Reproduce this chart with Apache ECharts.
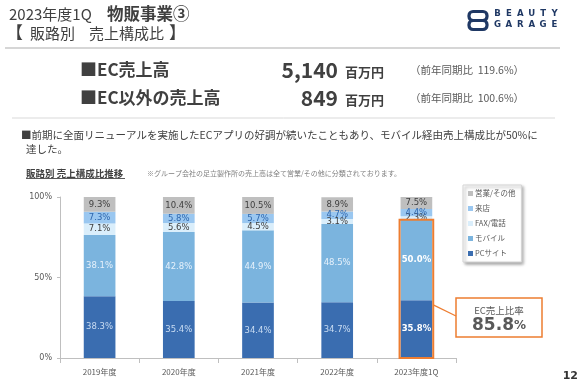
<!DOCTYPE html>
<html>
<head>
<meta charset="utf-8">
<script src="https://cdn.jsdelivr.net/npm/echarts@6/dist/echarts.min.js"></script>
<style>
html,body{margin:0;padding:0;background:#fff;}
#chart{width:580px;height:390px;}
</style>
</head>
<body>
<div id="chart"></div>
<script>
// ---- data ----
const categories = ['2019年度', '2020年度', '2021年度', '2022年度', '2023年度1Q'];
const pcSite   = [38.3, 35.4, 34.4, 34.7, 35.8];
const mobile   = [38.1, 42.8, 44.9, 48.5, 50.0];
const faxPhone = [7.1, 5.6, 4.5, 3.1, 2.3];
const visit    = [7.3, 5.8, 5.7, 4.7, 4.4];
const other    = [9.3, 10.4, 10.5, 8.9, 7.5];
const seriesNames = ['PCサイト', 'モバイル', 'FAX/電話', '来店', '営業/その他'];
const legendOrder = ['営業/その他', '来店', 'FAX/電話', 'モバイル', 'PCサイト'];
const yTicks = [0, 50, 100];
const ecSales = '5,140';
const ecSalesYoY = '119.6%';
const nonEcSales = '849';
const nonEcSalesYoY = '100.6%';
const highlightIndex = 4;

// ---- styling ----
const JP = '"Noto Sans CJK JP", "Noto Sans", sans-serif';
const NUM = '"DejaVu Sans", Verdana, sans-serif';
const colors = ['#3A6DB0', '#7BB4DE', '#DAEEFB', '#9AC7F0', '#BFBFBF'];
const labelColors = ['#c9dcf2', '#e6f1fb', '#404040', '#2f67ad', '#404040'];
const allValues = [pcSite, mobile, faxPhone, visit, other];

const barSeries = allValues.map((vals, s) => ({
  name: seriesNames[s],
  type: 'bar',
  stack: 'total',
  barWidth: '40%',
  itemStyle: { color: colors[s] },
  label: {
    show: true,
    position: 'inside',
    fontFamily: NUM,
    fontSize: 8.5,
    color: labelColors[s],
    formatter: p => Number(p.value).toFixed(1) + '%'
  },
  data: vals.map((v, i) => {
    if (i === highlightIndex && s < 2) {
      return { value: v, label: { color: '#ffffff', fontWeight: 'bold' } };
    }
    return v;
  })
}));

const ecRatio = +(pcSite[highlightIndex] + mobile[highlightIndex]).toFixed(1);

const boxSeries = {
  type: 'custom',
  name: 'ecbox',
  z: 10,
  silent: true,
  coordinateSystem: 'cartesian2d',
  encode: { x: 0, y: 1 },
  data: [[highlightIndex, ecRatio]],
  renderItem: function (params, api) {
    const top = api.coord([api.value(0), api.value(1)]);
    const bottom = api.coord([api.value(0), 0]);
    const bw = api.size([1, 0])[0] * 0.4 + 2;
    const connY = api.coord([api.value(0), 33])[1];
    return {
      type: 'group',
      children: [
        {
          type: 'rect',
          shape: { x: top[0] - bw / 2, y: top[1], width: bw, height: bottom[1] - top[1] },
          style: { fill: 'none', stroke: '#ED7D31', lineWidth: 2 }
        },
        {
          type: 'line',
          shape: { x1: top[0] + bw / 2, y1: connY, x2: 456, y2: 316 },
          style: { stroke: '#ED7D31', lineWidth: 1.2 }
        }
      ]
    };
  }
};

function txt(text, x, y, font, fill, align) {
  return {
    type: 'text',
    silent: true,
    style: { text: text, x: x, y: y, font: font, fill: fill || '#404040', align: align || 'left', verticalAlign: 'middle' }
  };
}

const graphics = [];
// header
graphics.push(txt('2023年度1Q', 9, 14, '15px ' + JP, '#404040'));
graphics.push(txt('物販事業③', 107, 14, 'bold 16.5px ' + JP, '#404040'));
graphics.push(txt('【', 6, 33, '17px ' + JP, '#404040'));
graphics.push(txt('販路別', 30, 33, '15px ' + JP, '#404040'));
graphics.push(txt('売上構成比', 89, 33, '15px ' + JP, '#404040'));
graphics.push(txt('】', 169, 33, '17px ' + JP, '#404040'));
graphics.push({ type: 'line', silent: true, shape: { x1: 5, y1: 48, x2: 560, y2: 48 }, style: { stroke: '#c8c8c8', lineWidth: 1.5 } });
// logo
graphics.push({ type: 'rect', silent: true, shape: { x: 469, y: 11.5, width: 18, height: 9, r: 4 }, style: { fill: 'none', stroke: '#1f3864', lineWidth: 3.2 } });
graphics.push({ type: 'rect', silent: true, shape: { x: 469, y: 20.5, width: 18, height: 9, r: 4 }, style: { fill: 'none', stroke: '#1f3864', lineWidth: 3.2 } });
'BEAUTY'.split('').forEach((c, i) => graphics.push(txt(c, 497.5 + i * 11.4, 13.5, 'bold 9.5px "DejaVu Sans Condensed", sans-serif', '#1f3864', 'center')));
'GARAGE'.split('').forEach((c, i) => graphics.push(txt(c, 497.5 + i * 11.4, 25, 'bold 9.5px "DejaVu Sans Condensed", sans-serif', '#1f3864', 'center')));
// key figures
graphics.push(txt('■EC売上高', 80, 70, 'bold 17px ' + JP, '#404040'));
graphics.push(txt(ecSales, 338, 70, 'bold 21px ' + JP, '#404040', 'right'));
graphics.push(txt('百万円', 345, 72, 'bold 13px ' + JP, '#404040'));
graphics.push(txt('（前年同期比  ' + ecSalesYoY + '）', 410, 70, '10.5px ' + JP, '#595959'));
graphics.push(txt('■EC以外の売上高', 80, 98, 'bold 17px ' + JP, '#404040'));
graphics.push(txt(nonEcSales, 338, 98, 'bold 21px ' + JP, '#404040', 'right'));
graphics.push(txt('百万円', 345, 100, 'bold 13px ' + JP, '#404040'));
graphics.push(txt('（前年同期比  ' + nonEcSalesYoY + '）', 410, 98, '10.5px ' + JP, '#595959'));
graphics.push({ type: 'line', silent: true, shape: { x1: 12, y1: 118, x2: 555, y2: 118 }, style: { stroke: '#d9d9d9', lineWidth: 1 } });
// paragraph
graphics.push(txt('■前期に全面リニューアルを実施したECアプリの好調が続いたこともあり、モバイル経由売上構成比が50%に', 21, 135, '10.5px ' + JP, '#404040'));
graphics.push(txt('達した。', 26, 149, '10.5px ' + JP, '#404040'));
// chart heading
graphics.push(txt('販路別 売上構成比推移', 26, 173, 'bold 9.5px ' + JP, '#404040'));
graphics.push({ type: 'line', silent: true, shape: { x1: 26, y1: 178.5, x2: 125, y2: 178.5 }, style: { stroke: '#595959', lineWidth: 1 } });
graphics.push(txt('※グループ会社の足立製作所の売上高は全て営業/その他に分類されております。', 147, 173, '7px ' + JP, '#7f7f7f'));
// callout
graphics.push({ type: 'rect', silent: true, shape: { x: 456, y: 298, width: 86, height: 39 }, style: { fill: '#ffffff', stroke: '#ED7D31', lineWidth: 1.5 } });
graphics.push(txt('EC売上比率', 499, 310, '9.5px ' + JP, '#595959', 'center'));
graphics.push({
  type: 'text', silent: true,
  style: {
    x: 499, y: 326, align: 'center', verticalAlign: 'middle',
    text: '{a|' + ecRatio.toFixed(1) + '}{b|%}',
    rich: {
      a: { font: 'bold 17px ' + NUM, fill: '#595959' },
      b: { font: 'bold 12px ' + NUM, fill: '#595959' }
    }
  }
});
// page number
graphics.push(txt('12', 578, 376, 'bold 11px ' + NUM, '#333333', 'right'));

const chart = echarts.init(document.getElementById('chart'));
chart.setOption({
  animation: false,
  backgroundColor: '#ffffff',
  textStyle: { fontFamily: JP },
  grid: { left: 60, right: 124, top: 197, bottom: 32, containLabel: false },
  legend: {
    data: legendOrder,
    orient: 'vertical',
    left: 463,
    top: 185,
    icon: 'rect',
    itemWidth: 5,
    itemHeight: 5,
    itemGap: 6,
    padding: [4, 6, 4, 5],
    backgroundColor: '#ffffff',
    borderColor: '#d4d4d4',
    borderWidth: 1,
    shadowColor: 'rgba(0,0,0,0.35)',
    shadowBlur: 3,
    shadowOffsetX: 2,
    shadowOffsetY: 2,
    selectedMode: false,
    textStyle: { fontSize: 7.5, lineHeight: 9, color: '#595959', fontFamily: JP, padding: [0, 0, 0, -3] }
  },
  xAxis: {
    type: 'category',
    data: categories,
    axisLine: { lineStyle: { color: '#bfbfbf' } },
    axisTick: { show: true, length: 5, lineStyle: { color: '#bfbfbf' } },
    axisLabel: { color: '#595959', fontSize: 8, margin: 10, fontFamily: JP }
  },
  yAxis: {
    type: 'value',
    min: yTicks[0],
    max: yTicks[yTicks.length - 1],
    interval: yTicks[1] - yTicks[0],
    splitLine: { show: false },
    axisLine: { show: true, lineStyle: { color: '#bfbfbf' } },
    axisTick: { show: true, length: 3, lineStyle: { color: '#bfbfbf' } },
    axisLabel: { formatter: '{value}%', color: '#595959', fontSize: 8, fontFamily: NUM, margin: 8 }
  },
  series: barSeries.concat([boxSeries]),
  graphic: graphics
});
</script>
</body>
</html>
